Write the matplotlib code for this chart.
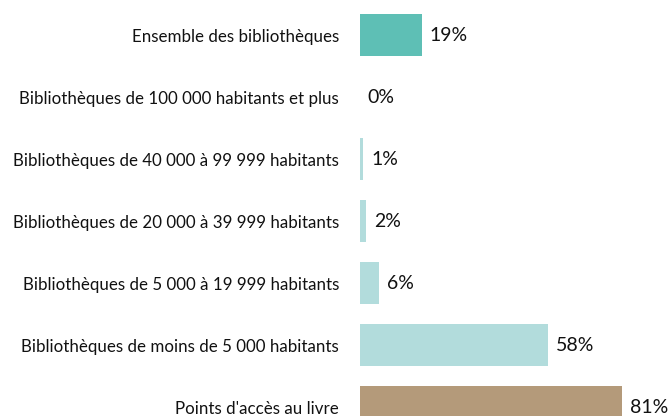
import matplotlib
matplotlib.use("Agg")
import matplotlib.pyplot as plt

categories = [
    "Ensemble des bibliothèques",
    "Bibliothèques de 100 000 habitants et plus",
    "Bibliothèques de 40 000 à 99 999 habitants",
    "Bibliothèques de 20 000 à 39 999 habitants",
    "Bibliothèques de 5 000 à 19 999 habitants",
    "Bibliothèques de moins de 5 000 habitants",
    "Points d'accès au livre",
]
values = [19, 0, 1, 2, 6, 58, 81]
labels = ["19%", "0%", "1%", "2%", "6%", "58%", "81%"]
colors = ["#5ebfb5", "#b2dcdc", "#b2dcdc", "#b2dcdc", "#b2dcdc", "#b2dcdc", "#b49a7a"]

plt.rcParams["font.family"] = ["Lato", "DejaVu Sans"]

fig = plt.figure(figsize=(6.69, 4.16), dpi=100)
ax = fig.add_axes([360 / 669, 0, 309 / 669, 1])

pos = list(range(len(categories)))
ax.barh(pos, values, height=0.68, color=colors)
for p, v, lab in zip(pos, values, labels):
    ax.text(v + 2.4, p, lab, va="center", ha="left", fontsize=14, color="#111111", clip_on=False)

ax.set_xlim(0, 309 / 3.24)
ax.set_ylim(6.145, -0.565)
ax.set_yticks(pos)
ax.set_yticklabels(categories, fontsize=12.2, color="#111111")
ax.tick_params(axis="y", length=0, pad=15)
ax.set_xticks([])
for s in ax.spines.values():
    s.set_visible(False)

fig.savefig("out.png", dpi=100)
